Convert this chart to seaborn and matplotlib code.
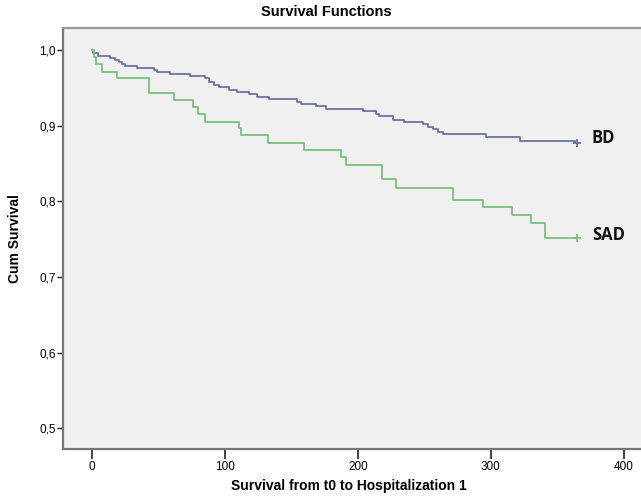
import matplotlib
matplotlib.use("Agg")
import matplotlib.pyplot as plt
import seaborn as sns
import pandas as pd

# Kaplan-Meier step values (days, cumulative survival)
bd_days = [0, 1.0, 4.8, 13.6, 17.4, 19.9, 22.4, 24.9, 33.7, 46.3, 48.8, 58.9,
           74, 85.3, 87.8, 91.6, 95.3, 102.9, 109.2, 118, 124.3, 133.1, 154.5,
           157, 168.3, 175.8, 203.5, 213.6, 216.1, 226.2, 235, 248.8, 252.6,
           256.4, 260.1, 263.9, 296.6, 321.8, 363, 365]
bd_surv = [1.0, 0.9965, 0.9925, 0.989, 0.987, 0.9845, 0.9815, 0.979, 0.9766,
           0.9735, 0.9705, 0.968, 0.9656, 0.9625, 0.958, 0.9537, 0.9507, 0.947,
           0.944, 0.9414, 0.938, 0.935, 0.931, 0.9286, 0.926, 0.922, 0.919,
           0.915, 0.913, 0.908, 0.905, 0.902, 0.8985, 0.895, 0.892, 0.8885,
           0.8853, 0.880, 0.877, 0.877]

sad_days = [0, 1.5, 3, 7.8, 18.6, 42.5, 61.4, 75.7, 80, 85, 110.4, 112, 132.6,
            159.5, 187.2, 191, 217.9, 228.7, 271.5, 294, 316, 330, 340.6, 365]
sad_surv = [1.0, 0.99, 0.981, 0.971, 0.9625, 0.9435, 0.934, 0.925, 0.915,
            0.905, 0.897, 0.8875, 0.877, 0.868, 0.858, 0.848, 0.829, 0.818,
            0.8016, 0.792, 0.782, 0.7716, 0.752, 0.752]

groups = ["BD", "SAD"]
colors = {"BD": "#6a74a3", "SAD": "#79c27a"}

x_ticks = [0, 100, 200, 300, 400]
y_ticks = [0.5, 0.6, 0.7, 0.8, 0.9, 1.0]
y_tick_labels = ["0,5", "0,6", "0,7", "0,8", "0,9", "1,0"]

df = pd.concat([
    pd.DataFrame({"days": bd_days, "surv": bd_surv, "group": "BD"}),
    pd.DataFrame({"days": sad_days, "surv": sad_surv, "group": "SAD"}),
])

sns.set_theme(style="ticks")
plt.rcParams["font.family"] = ["Liberation Sans", "DejaVu Sans"]

fig = plt.figure(figsize=(6.41, 4.98), dpi=100)
ax = fig.add_axes([0.0978, 0.0984, 0.905, 0.8454])
ax.set_facecolor("#f0f0f0")

sns.lineplot(data=df, x="days", y="surv", hue="group", palette=colors,
             estimator=None, sort=False, drawstyle="steps-post",
             linewidth=1.3, legend=False, ax=ax)

# censor marks at the end of each curve
for g, days, surv in [("BD", bd_days, bd_surv), ("SAD", sad_days, sad_surv)]:
    ax.plot(days[-1], surv[-1], marker="+", ms=6, mew=1.3, color=colors[g])
    ax.text(days[-1] + 11, surv[-1] + (0.007 if g == "BD" else 0.003), g,
            family=["Open Sans", "DejaVu Sans"], fontweight="bold",
            fontsize=12, va="center", ha="left", color="#111111")

ax.set_xlim(-22.1, 414.3)
ax.set_ylim(0.4726, 1.029)
ax.set_xticks(x_ticks)
ax.set_yticks(y_ticks)
ax.set_yticklabels(y_tick_labels)

ax.tick_params(axis="y", length=4, width=1, color="#222222", labelsize=8.5,
               labelcolor="black", pad=1)
ax.tick_params(axis="x", length=7, width=1.2, color="#222222", labelsize=8.5,
               labelcolor="black", pad=2)

for side in ["left", "bottom"]:
    ax.spines[side].set_color("#777777")
    ax.spines[side].set_linewidth(1.6)
ax.spines["top"].set_color("#9a9a9a")
ax.spines["top"].set_linewidth(1.6)
ax.spines["right"].set_visible(False)

ax.set_xlabel("Survival from t0 to Hospitalization 1", fontsize=10,
              fontweight="bold", color="black")
ax.set_ylabel("Cum Survival", fontsize=10, fontweight="bold", color="black")
ax.xaxis.set_label_coords(0.4934, -0.071)
ax.yaxis.set_label_coords(-0.0704, 0.5)

fig.text(326 / 641, 1 - 12 / 498, "Survival Functions", ha="center",
         va="center", fontsize=10.5, fontweight="bold", color="black")

fig.savefig("out.png", dpi=100)
